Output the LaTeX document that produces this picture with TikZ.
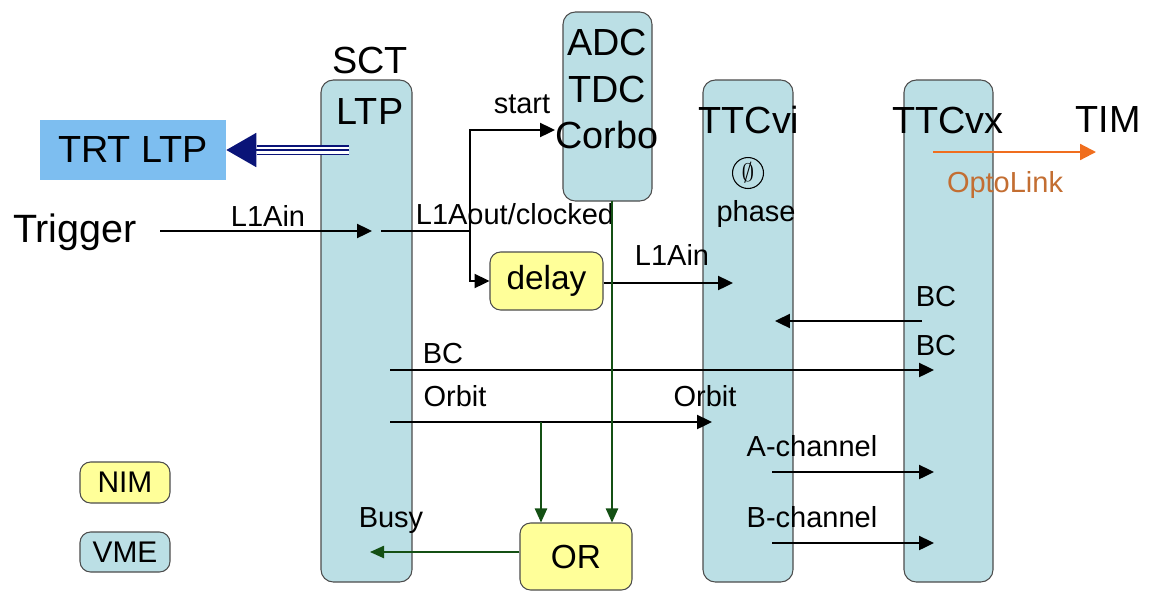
\documentclass[tikz,border=0pt]{standalone}
\usepackage{amsmath,amssymb}
\usepackage{xcolor}
\usepackage{fontspec}
\setmainfont{Liberation Sans}
\usepackage{tikz}
\usetikzlibrary{shapes.geometric,arrows.meta,positioning,fit,backgrounds}

\definecolor{vmeblue}{RGB}{187,223,229}
\definecolor{nimyellow}{RGB}{255,255,153}
\definecolor{trtblue}{RGB}{125,190,240}
\definecolor{linknavy}{RGB}{10,20,120}
\definecolor{busygreen}{RGB}{20,80,20}
\definecolor{optoorange}{RGB}{240,110,30}
\definecolor{optotext}{RGB}{195,110,50}

\newcommand{\bigfont}{\fontsize{21.5}{26.7}\selectfont}
\newcommand{\smallfont}{\fontsize{16.5}{19}\selectfont}

\begin{document}
\begin{tikzpicture}[
  x=0.02cm, y=-0.02cm,
  col/.style={rectangle, draw=black!70, fill=vmeblue, rounded corners=7pt, inner sep=0pt, line width=0.6pt},
  nim/.style={rectangle, draw=black!70, fill=nimyellow, rounded corners=6pt, inner sep=0pt, line width=0.6pt},
  big/.style={font=\bigfont, inner sep=0pt},
  lbl/.style={font=\smallfont, inner sep=0pt},
  arr/.style={-{Triangle[length=8.5pt,width=8pt]}, line width=1.1pt},
  garr/.style={-{Triangle[length=8pt,width=7pt]}, draw=busygreen, fill=busygreen, line width=0.9pt},
  navyline/.style={draw=linknavy, line width=1.1pt}
]
\useasboundingbox (0,0) rectangle (1151,592);

% modules
\node[col, fit={(321,80)(412,582)}] (sct) {};
\node[col, fit={(703,80)(793,582)}] (ttcvi) {};
\node[col, fit={(904,80)(993,582)}] (ttcvx) {};
\node[col, fit={(563,12)(652,201)}] (adc) {};
\node[big, align=center] (adctxt) at (607,89) {ADC\\TDC\\Corbo};
\node[nim, minimum width=2.26cm, minimum height=1.16cm, font=\fontsize{19}{22}\selectfont] (delay) at (546.5,281) {delay};
\node[nim, minimum width=2.24cm, minimum height=1.34cm, font=\fontsize{19}{22}\selectfont] (orbox) at (576,556.5) {OR};
\node[rectangle, fill=trtblue, minimum width=3.72cm, minimum height=1.2cm, inner sep=0pt, font=\bigfont] (trt) at (133,150) {TRT LTP};

% legend
\node[nim, minimum width=1.8cm, minimum height=0.82cm, font=\fontsize{17}{20}\selectfont] (nimkey) at (125,482.5) {NIM};
\node[col, minimum width=1.8cm, minimum height=0.8cm, rounded corners=6pt, font=\fontsize{17}{20}\selectfont] (vmekey) at (125,552) {VME};

% titles
\node[big] (scttitle) at (370,60) {SCT};
\node[big] (ltptitle) at (370,112) {LTP};
\node[big] (ttcvititle) at (749,120) {TTCvi};
\node[big] (ttcvxtitle) at (948,120) {TTCvx};
\node[big] (tim) at (1108,120) {TIM};
\node[big, font=\fontsize{22.5}{26}\selectfont] (trigger) at (75,232) {Trigger};
\node[circle, draw, line width=0.6pt, minimum size=0.62cm, inner sep=0pt, font=\fontsize{15}{15}\selectfont] (phasesym) at (748,173) {$\emptyset$};
\node[lbl] (phase) at (756,214) {phase};
\node[lbl, text=optotext] (opto) at (1005,185) {OptoLink};

% signal labels
\node[lbl] (l1ainlbl) at (268,216) {L1Ain};
\node[lbl] (l1aoutlbl) at (515,214) {L1Aout/clocked};
\node[lbl] (startlbl) at (522,104) {start};
\node[lbl] (l1ainvi) at (672,255) {L1Ain};
\node[lbl] (bcvxlbl) at (936,297) {BC};
\node[lbl] (bclbl) at (443,354) {BC};
\node[lbl] (bcinlbl) at (936,346) {BC};
\node[lbl] (orbitlbl) at (455,396) {Orbit};
\node[lbl] (orbitinlbl) at (705,396) {Orbit};
\node[lbl] (achlbl) at (812,446) {A-channel};
\node[lbl] (bchlbl) at (812,517) {B-channel};
\node[lbl] (busylbl) at (391,521) {Busy};

% end points inside the modules
\coordinate (trigout) at (160,231);
\coordinate (ltpin) at (372,231);
\coordinate (ltpout) at (381,231);
\coordinate (split) at (470,231);
\coordinate (startin) at (555,130);
\coordinate (l1ain) at (733,283);
\coordinate (adcdrop) at (612,201);
\coordinate (orbitsrc) at (390,422);
\coordinate (orbitin) at (712,422);
\coordinate (orbittap) at (541,422);
\coordinate (bcsrc) at (390,370);
\coordinate (bcin) at (934,370);
\coordinate (bcvx) at (922,321);
\coordinate (bcvi) at (775,321);
\coordinate (achsrc) at (772,472);
\coordinate (achin) at (934,472);
\coordinate (bchsrc) at (772,543);
\coordinate (bchin) at (934,543);
\coordinate (busyin) at (370,552);
\coordinate (optosrc) at (933,152);
\coordinate (optoout) at (1096,152);
\coordinate (trtsrc) at (349,150);
\coordinate (trthead) at (257,150);

\draw[arr] (trigout) -- (ltpin);
\draw[arr] (ltpout) -- (split) |- (startin);
\draw[arr] (split) |- (delay.west);
\draw[arr] (delay.east |- l1ain) -- (l1ain);
\draw[arr] (bcsrc) -- (bcin);
\draw[arr] (orbitsrc) -- (orbitin);
\draw[arr] (bcvx) -- (bcvi);
\draw[arr] (achsrc) -- (achin);
\draw[arr] (bchsrc) -- (bchin);
\draw[garr] (adcdrop) -- (adcdrop |- orbox.north);
\draw[garr] (orbittap) -- (orbittap |- orbox.north);
\draw[garr] (orbox.west |- busyin) -- (busyin);
\draw[-{Triangle[length=9pt,width=9pt]}, draw=optoorange, fill=optoorange, line width=1.2pt] (optosrc) -- (optoout);

% triple link to TRT
\draw[navyline, double, double distance=0.14cm] (trtsrc) -- (trthead);
\draw[navyline, -{Triangle[length=0.6cm,width=0.68cm]}, fill=linknavy] (trtsrc) -- (trt.east);
\end{tikzpicture}
\end{document}
